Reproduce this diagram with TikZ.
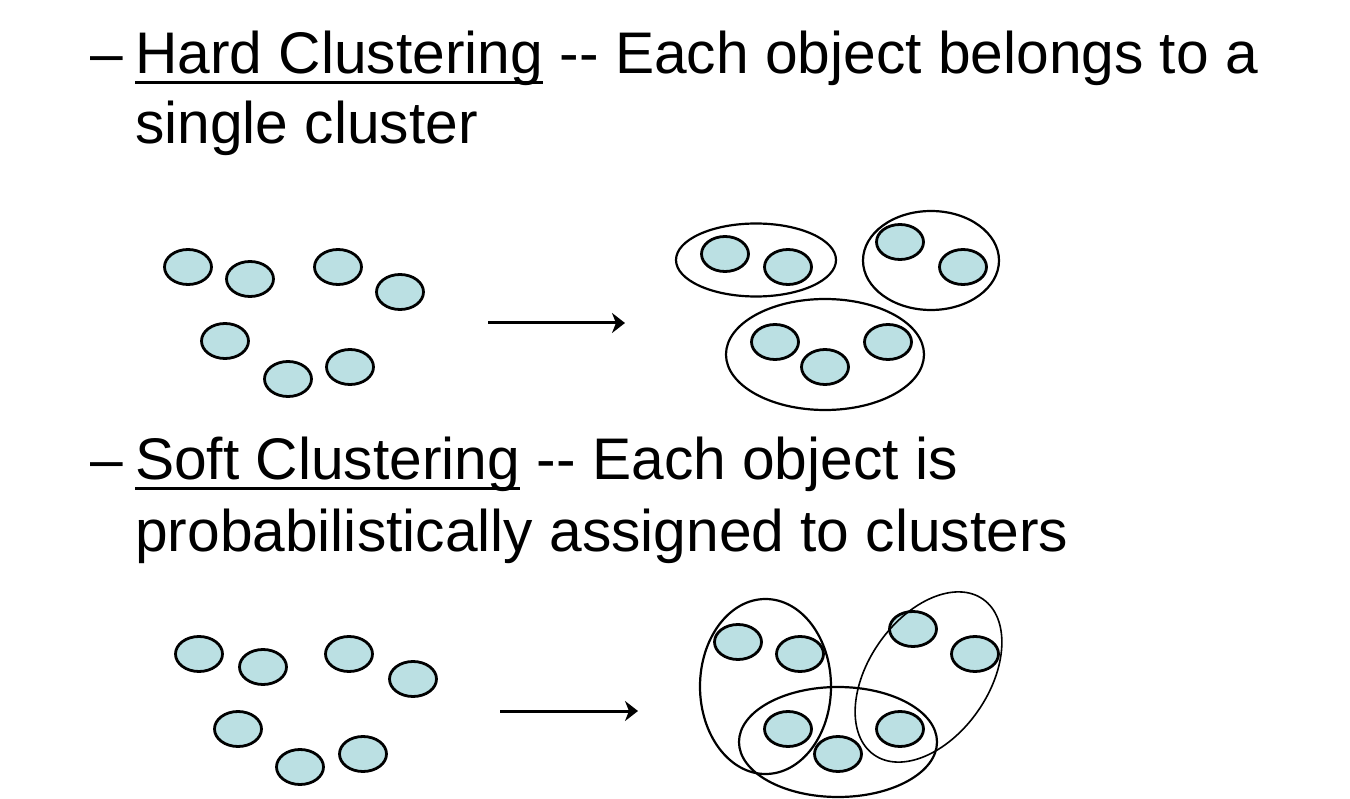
\documentclass[tikz,border=0pt]{standalone}
\usepackage{fontspec}
\setmainfont{Liberation Sans}
\usetikzlibrary{arrows.meta, shapes.geometric, positioning}
\definecolor{objfill}{RGB}{187,224,227}

\begin{document}
\begin{tikzpicture}[x=1pt, y=-1pt,
  obj/.style={ellipse, draw, line width=2.8pt, fill=objfill, minimum width=47pt, minimum height=35pt, inner sep=0pt},
  grp/.style={line width=2.2pt},
  txt/.style={anchor=base west, inner sep=0pt, font=\fontsize{58.7}{70}\selectfont},
  ul/.style={line width=3pt},
  arr/.style={line width=3pt, -{Stealth[length=13pt, width=20pt, inset=4pt]}}]
\useasboundingbox (0,0) rectangle (1350,799);

\node (dashA) at (90,74) [txt] {\textendash};
\node (hard) at (135,74) [txt] {Hard Clustering};
\node (hardrest) at (hard.base east) [txt] {\ -\kern0pt- Each object belongs to a};
\node (hardB) at (135,144) [txt] {single cluster};
\draw [ul] ([yshift=-9pt]hard.base west) -- ([yshift=-9pt]hard.base east);

\node (h1) at (188,267) [obj] {};
\node (h2) at (250,279) [obj] {};
\node (h3) at (338,267) [obj] {};
\node (h4) at (400,292) [obj] {};
\node (h5) at (225,341) [obj] {};
\node (h6) at (288,379) [obj] {};
\node (h7) at (350,367) [obj] {};

\coordinate (hs) at (488,323);
\coordinate (he) at (625,323);
\draw [arr] (hs) -- (he);

\node (g1) at (725,254) [obj] {};
\node (g2) at (788,267) [obj] {};
\node (g3) at (900,242) [obj] {};
\node (g4) at (963,267) [obj] {};
\node (g5) at (775,342) [obj] {};
\node (g6) at (825,367) [obj] {};
\node (g7) at (888,342) [obj] {};
\draw [grp] (756,260) ellipse [x radius=80, y radius=36.5];
\draw [grp] (931,260.5) ellipse [x radius=68, y radius=49.5];
\draw [grp] (825,354.5) ellipse [x radius=99, y radius=55.5];

\node (dashB) at (90,480) [txt] {\textendash};
\node (soft) at (135,480) [txt] {Soft Clustering};
\node (softrest) at (soft.base east) [txt] {\ -\kern0pt- Each object is};
\node (softB) at (135,551) [txt] {probabilistically assigned to clusters};
\draw [ul] ([yshift=-9pt]soft.base west) -- ([yshift=-9pt]soft.base east);

\node (s1) at (199,654) [obj] {};
\node (s2) at (263,667) [obj] {};
\node (s3) at (349,654) [obj] {};
\node (s4) at (413,679) [obj] {};
\node (s5) at (238,729) [obj] {};
\node (s6) at (300,767) [obj] {};
\node (s7) at (363,754) [obj] {};

\coordinate (ss) at (500,711);
\coordinate (se) at (638,711);
\draw [arr] (ss) -- (se);

\node (t1) at (738,642) [obj] {};
\node (t2) at (800,654) [obj] {};
\node (t3) at (913,629) [obj] {};
\node (t4) at (975,654) [obj] {};
\node (t5) at (788,729) [obj] {};
\node (t6) at (838,754) [obj] {};
\node (t7) at (900,729) [obj] {};
\draw [grp] (765.5,686.5) ellipse [x radius=65.5, y radius=87.5];
\draw [grp] (838,742) ellipse [x radius=99, y radius=55];
\draw [line width=1.6pt, rotate around={55:(928.5,677)}] (928.5,677) ellipse [x radius=95, y radius=60];
\end{tikzpicture}
\end{document}
